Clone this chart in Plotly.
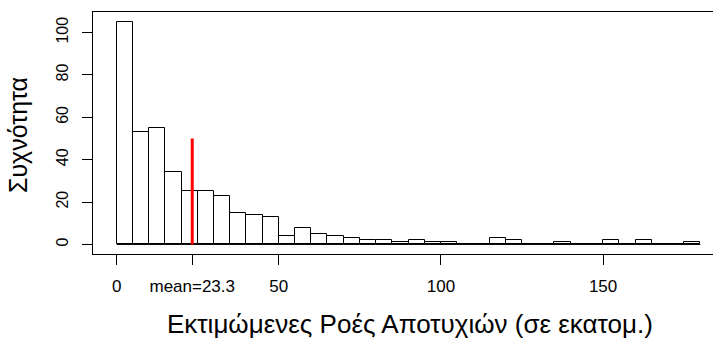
import plotly.graph_objects as go

# ---- data ----
bin_width = 5
bin_left = list(range(0, 180, 5))
counts = [105, 53, 55, 34, 25, 25, 23, 15, 14, 13,
          4, 8, 5, 4, 3, 2, 2, 1, 2, 1,
          1, 0, 0, 3, 2, 0, 0, 1, 0, 0,
          2, 0, 2, 0, 0, 1]
mean_value = 23.3
mean_line_height = 50
x_tick_vals = [0, mean_value, 50, 100, 150]
x_tick_text = ["0", "mean=23.3", "50", "100", "150"]
y_tick_vals = [0, 20, 40, 60, 80, 100]

FONT = "Arial, Liberation Sans, sans-serif"

centers = [b + bin_width / 2 for b in bin_left]

fig = go.Figure()
fig.add_trace(go.Bar(
    x=centers, y=counts, width=bin_width,
    marker=dict(color="white", line=dict(color="black", width=1)),
    hoverinfo="x+y", showlegend=False,
))
# base line of histogram (R draws empty bins as flat rectangles)
fig.add_trace(go.Scatter(
    x=[bin_left[0], bin_left[-1] + bin_width], y=[0, 0], mode="lines",
    line=dict(color="black", width=1), showlegend=False, hoverinfo="skip",
))
# mean line
fig.add_trace(go.Scatter(
    x=[mean_value, mean_value], y=[0, mean_line_height], mode="lines",
    line=dict(color="red", width=3), showlegend=False, hoverinfo="skip",
))

fig.update_layout(
    width=713, height=338,
    margin=dict(l=93, r=0, t=12, b=84),
    paper_bgcolor="white", plot_bgcolor="white",
    font=dict(family=FONT, color="black"),
    bargap=0,
    xaxis=dict(
        range=[-7.3, 183.9],
        showline=True, linecolor="black", linewidth=1, mirror=True,
        ticks="outside", ticklen=10, tickcolor="black", tickwidth=1,
        tickvals=x_tick_vals, ticktext=x_tick_text,
        tickfont=dict(size=17, family=FONT), ticklabelstandoff=7,
        showgrid=False, zeroline=False,
    ),
    yaxis=dict(
        range=[-4.5, 109.7],
        showline=True, linecolor="black", linewidth=1, mirror=False,
        ticks="outside", ticklen=10, tickcolor="black", tickwidth=1,
        tickvals=y_tick_vals, tickangle=-90,
        tickfont=dict(size=16, family=FONT), ticklabelstandoff=8,
        showgrid=False, zeroline=False,
    ),
    annotations=[
        dict(text="Εκτιμώμενες Ροές Αποτυχιών (σε εκατομ.)", xref="paper", yref="paper",
             x=0.511, y=-0.29, xanchor="center", yanchor="middle", showarrow=False,
             font=dict(size=26, family=FONT)),
        dict(text="Συχνότητα", xref="paper", yref="paper",
             x=-0.12, y=0.49, xanchor="center", yanchor="middle", showarrow=False,
             textangle=-90, font=dict(size=25, family=FONT)),
    ],
)

fig.write_html("out.html")
